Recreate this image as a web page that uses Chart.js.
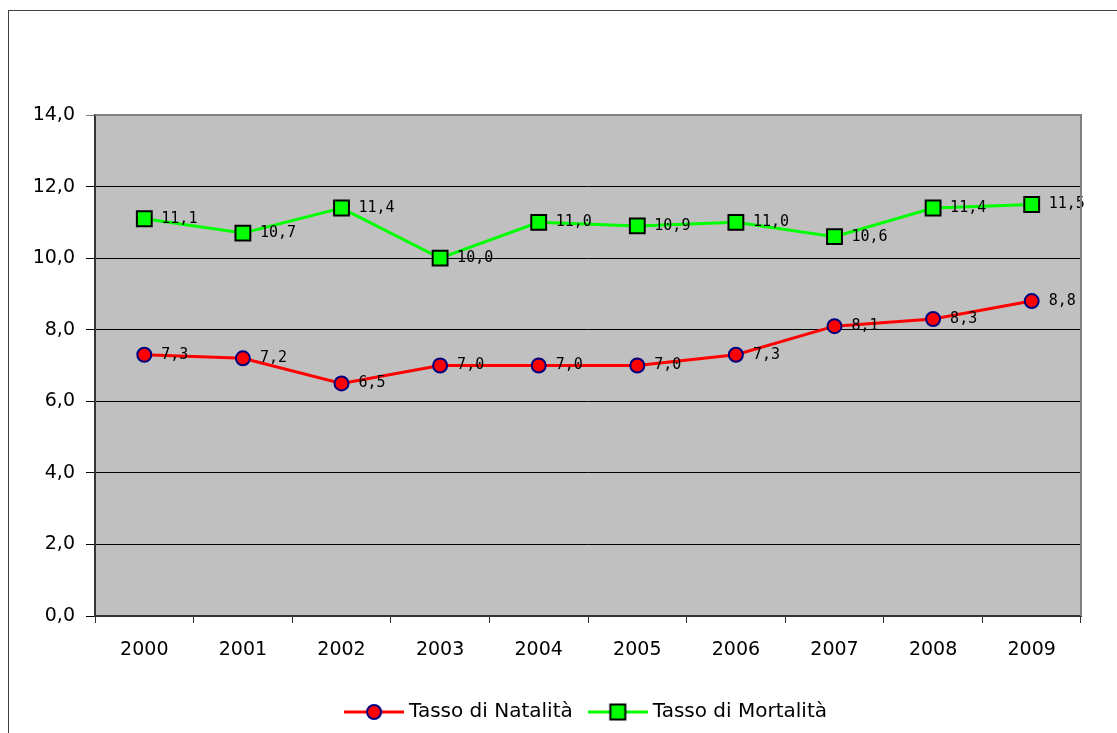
<!DOCTYPE html>
<html>
<head>
<meta charset="utf-8">
<script src="https://cdn.jsdelivr.net/npm/chart.js@4"></script>
<style>
  html, body { margin: 0; padding: 0; background: #fff; overflow: hidden; }
  #frame { position: absolute; left: 8px; top: 10px; width: 1130px; height: 740px; border: 1px solid #404040; }
  #wrap { position: absolute; left: 0; top: 0; width: 1117px; height: 733px; }
</style>
</head>
<body>
<div id="frame"></div>
<div id="wrap"><canvas id="chart" width="1117" height="733"></canvas></div>
<script>
// dati: tassi per 1000 abitanti
const anni = ['2000', '2001', '2002', '2003', '2004', '2005', '2006', '2007', '2008', '2009'];
const natalita = [7.3, 7.2, 6.5, 7.0, 7.0, 7.0, 7.3, 8.1, 8.3, 8.8];
const mortalita = [11.1, 10.7, 11.4, 10.0, 11.0, 10.9, 11.0, 10.6, 11.4, 11.5];

const fmt = v => v.toFixed(1).replace('.', ',');

// icona legenda: linea + marker
function legendIcon(lineColor, shape, fill, border) {
    const c = document.createElement('canvas');
    c.width = 60; c.height = 18;
    const g = c.getContext('2d');
    g.strokeStyle = lineColor;
    g.lineWidth = 3;
    g.beginPath(); g.moveTo(0, 9); g.lineTo(60, 9); g.stroke();
    g.fillStyle = fill;
    g.strokeStyle = border;
    g.lineWidth = 2;
    g.beginPath();
    if (shape === 'circle') g.arc(30, 9, 7, 0, Math.PI * 2);
    else g.rect(22.5, 1.5, 15, 15);
    g.fill(); g.stroke();
    return c;
}
const iconNat = legendIcon('#FF0000', 'circle', '#FF0000', '#000080');
const iconMor = legendIcon('#00FF00', 'rect', '#00FF00', '#000000');

const plotBg = {
    id: 'plotBg',
    beforeDraw(chart) {
        const { ctx, chartArea: a } = chart;
        ctx.save();
        ctx.fillStyle = '#C0C0C0';
        ctx.fillRect(a.left, a.top, a.right - a.left, a.bottom - a.top);
        ctx.restore();
    },
    afterDraw(chart) {
        const { ctx, chartArea: a } = chart;
        ctx.save();
        ctx.strokeStyle = '#808080';
        ctx.lineWidth = 2;
        ctx.beginPath();
        ctx.moveTo(a.left, a.top);
        ctx.lineTo(a.right, a.top);
        ctx.lineTo(a.right, a.bottom);
        ctx.stroke();
        ctx.restore();
    }
};

const valueLabels = {
    id: 'valueLabels',
    afterDatasetsDraw(chart) {
        const ctx = chart.ctx;
        ctx.save();
        ctx.font = '15px "DejaVu Sans Mono"';
        ctx.fillStyle = '#000';
        ctx.textAlign = 'left';
        ctx.textBaseline = 'middle';
        chart.data.datasets.forEach((ds, i) => {
            chart.getDatasetMeta(i).data.forEach((pt, j) => {
                ctx.fillText(fmt(ds.data[j]), pt.x + 17, pt.y);
            });
        });
        ctx.restore();
    }
};

new Chart(document.getElementById('chart'), {
    type: 'line',
    data: {
        labels: anni,
        datasets: [{
            label: 'Tasso di Natalità',
            data: natalita,
            borderColor: '#FF0000',
            borderWidth: 3,
            pointStyle: 'circle',
            pointRadius: 7,
            pointBackgroundColor: '#FF0000',
            pointBorderColor: '#000080',
            pointBorderWidth: 2,
            tension: 0
        }, {
            label: 'Tasso di Mortalità',
            data: mortalita,
            borderColor: '#00FF00',
            borderWidth: 3,
            pointStyle: 'rect',
            pointRadius: 10.5,
            pointBackgroundColor: '#00FF00',
            pointBorderColor: '#000000',
            pointBorderWidth: 2,
            tension: 0
        }]
    },
    options: {
        responsive: false,
        animation: false,
        events: [],
        layout: { padding: { top: 115, right: 36, left: 0, bottom: 1 } },
        scales: {
            x: {
                offset: true,
                afterFit: s => { s.height = 66; },
                grid: { offset: true, drawOnChartArea: false, drawTicks: true, tickLength: 7, color: '#333' },
                border: { color: '#333', width: 2 },
                ticks: { color: '#000', padding: 16, font: { family: 'DejaVu Sans', size: 19 } }
            },
            y: {
                min: 0, max: 14,
                afterFit: s => { s.width = 95; },
                grid: {
                    color: c => c.tick.value === 14 ? '#808080' : '#000',
                    tickLength: 9
                },
                border: { color: '#333', width: 2 },
                ticks: { stepSize: 2, color: '#000', padding: 11, callback: v => fmt(v), font: { family: 'DejaVu Sans', size: 19 } }
            }
        },
        plugins: {
            tooltip: { enabled: false },
            legend: {
                position: 'bottom',
                fullSize: false,
                labels: {
                    usePointStyle: true,
                    pointStyleWidth: 50,
                    padding: 20,
                    color: '#000',
                    font: { family: 'DejaVu Sans', size: 20 },
                    generateLabels: chart => chart.data.datasets.map((ds, i) => ({
                        text: ds.label,
                        pointStyle: i === 0 ? iconNat : iconMor,
                        datasetIndex: i,
                        fontColor: '#000',
                        lineWidth: 0,
                        hidden: false
                    }))
                }
            }
        }
    },
    plugins: [plotBg, valueLabels]
});
</script>
</body>
</html>
